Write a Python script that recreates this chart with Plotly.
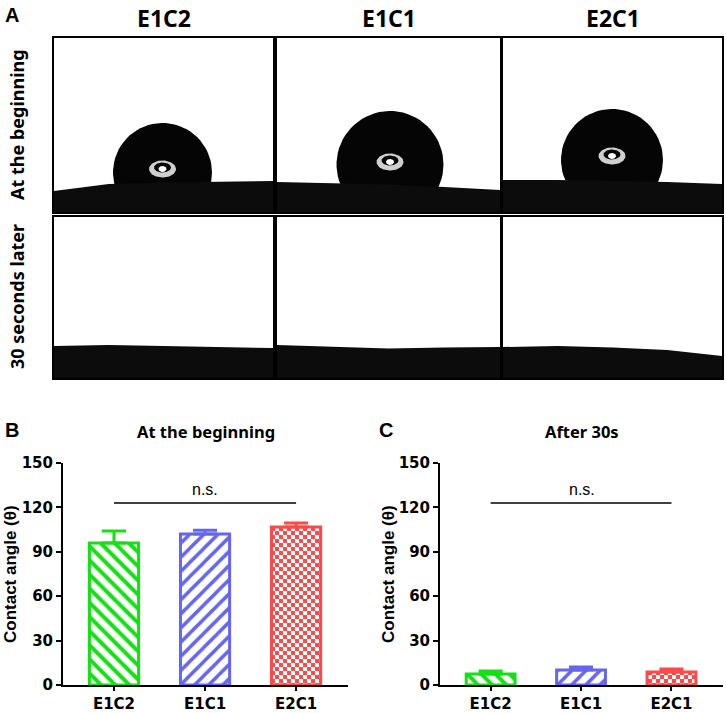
import numpy as np
import plotly.graph_objects as go

W, H = 726, 713
# the page comes out with the plot squeezed into this vertical band (px)
BAND_TOP, BAND_H = 10, 694

groups = ["E1C2", "E1C1", "E2C1"]
colors = ["#14e014", "#6565ee", "#ff4848"]

# contact angle (degrees), mean and SD
angle_start = [96.0, 102.0, 106.8]
sd_start = [8.0, 2.6, 2.7]
angle_30s = [7.4, 10.1, 8.8]
sd_30s = [2.1, 2.1, 2.0]

# droplet photos, in image pixels measured from the bottom-left corner
img_w = [219, 223, 219]
img_h = [174, 161]
drop_cx = [108.5, 113, 109]
drop_r = [49.5, 53.5, 51]
drop_top = [89, 101, 103]
glint_y = [43, 50, 56]
surf_x = [0, 0.25, 0.5, 0.75, 1.0]  # fraction of image width
surf_start = [[21, 28, 29.5, 30.5, 31], [30, 29, 27.5, 25, 22], [32, 32, 31, 30, 28]]
surf_30s = [[32, 33, 32, 31, 30], [33, 31, 29.5, 30.5, 31], [31, 32, 30.5, 28, 22]]

# page boxes (px) for the photos and the two bar charts
img_cols = [(54, 273), (277, 500), (503, 722)]
img_rows = [(39, 213), (218, 379)]
chart_cols = [(63, 348), (440, 723)]
chart_row = (464, 686)

# bar fills: hatching for the first two, a checkerboard for the third
fills = [
    dict(shape="\\", size=10, solidity=0.4),
    dict(shape="/", size=10, solidity=0.35),
    dict(path="M0,0H4V4H0Z M4,4H8V8H4Z", size=8),
]


def px_x(a, b):
    return [a / W, b / W]


def py(y):
    return 1 - (y - BAND_TOP) / BAND_H


def px_y(top, bottom):
    return [py(bottom), py(top)]


def ellipse(cx, cy, rx, ry, n=72):
    t = np.linspace(0, 2 * np.pi, n)
    return cx + rx * np.cos(t), cy + ry * np.sin(t)


def blob(x, y, color, ax):
    return go.Scatter(x=x, y=y, mode="lines", fill="toself", fillcolor=color,
                      line=dict(width=0, color=color), hoverinfo="skip",
                      showlegend=False, xaxis="x" + ax, yaxis="y" + ax)


fig = go.Figure()
layout = {}

# panel A: the six photos
for r, surf in enumerate([surf_start, surf_30s]):
    for c in range(3):
        n = r * 3 + c + 1
        ax = str(n)
        w, h = img_w[c], img_h[r]
        if r == 0:
            cy = drop_top[c] - drop_r[c]
            x, y = ellipse(drop_cx[c], cy, drop_r[c], drop_r[c])
            fig.add_trace(blob(x, y, "#050505", ax))
            x, y = ellipse(drop_cx[c], glint_y[c], 13.5, 8.5)
            fig.add_trace(blob(x, y, "#cfcfcf", ax))
            x, y = ellipse(drop_cx[c], glint_y[c] + 1.5, 8.5, 5)
            fig.add_trace(blob(x, y, "#050505", ax))
            x, y = ellipse(drop_cx[c], glint_y[c], 4, 3)
            fig.add_trace(blob(x, y, "#ffffff", ax))
        # substrate goes on top so it cuts off the bottom of the droplet
        sx = [f * w for f in surf_x]
        fig.add_trace(blob([0] + sx + [w, 0], [surf[c][0]] + surf[c] + [0, 0], "#0c0c0c", ax))
        key = "" if n == 1 else str(n)
        layout["xaxis" + key] = dict(domain=px_x(*img_cols[c]), range=[0, w], anchor="y" + ax,
                                     showgrid=False, zeroline=False, showticklabels=False,
                                     showline=True, mirror=True, linecolor="black", linewidth=1.8)
        layout["yaxis" + key] = dict(domain=px_y(*img_rows[r]), range=[0, h], anchor="x" + ax,
                                     showgrid=False, zeroline=False, showticklabels=False,
                                     showline=True, mirror=True, linecolor="black", linewidth=1.8)

# panels B and C: bar charts
tickfont = dict(family="DejaVu Sans", size=15, color="black", weight="bold")
for k, (vals, sds) in enumerate([(angle_start, sd_start), (angle_30s, sd_30s)]):
    ax = str(7 + k)
    for g, v, s, col, fill in zip(groups, vals, sds, colors, fills):
        fig.add_trace(go.Bar(
            x=[g], y=[v], width=0.54, xaxis="x" + ax, yaxis="y" + ax, showlegend=False,
            marker=dict(color="white", line=dict(color=col, width=3),
                        pattern=dict(fgcolor=col, bgcolor="white", fillmode="replace", **fill)),
            error_y=dict(type="data", symmetric=False, array=[s], arrayminus=[0],
                         color=col, thickness=3, width=12)))
    layout["xaxis" + ax] = dict(domain=px_x(*chart_cols[k]), range=[-0.56, 2.57], anchor="y" + ax,
                                type="category", categoryorder="array", categoryarray=groups,
                                showgrid=False, zeroline=False, showline=True, linecolor="black",
                                linewidth=2, ticks="outside", ticklen=4, tickwidth=2,
                                tickcolor="black", tickfont=tickfont)
    layout["yaxis" + ax] = dict(domain=px_y(*chart_row), range=[0, 150], anchor="x" + ax,
                                tickvals=[0, 30, 60, 90, 120, 150], showgrid=False, zeroline=False,
                                showline=True, linecolor="black", linewidth=2, ticks="outside",
                                ticklen=5, tickwidth=2, tickcolor="black", tickfont=tickfont)
    # n.s. bracket
    fig.add_shape(type="line", x0=0, x1=2, y0=123, y1=123, xref="x" + ax, yref="y" + ax,
                  line=dict(color="black", width=1.5))


def note(text, x, y, size, family="Liberation Sans", bold=True, angle=0, yanchor="middle"):
    return dict(text=text, x=x / W, y=py(y), xref="paper", yref="paper", showarrow=False,
                xanchor="center", yanchor=yanchor, textangle=angle,
                font=dict(family=family, size=size, color="black",
                          weight="bold" if bold else "normal"))


annotations = [
    note("A", 12, 16, 20),
    note("B", 12, 431, 20),
    note("C", 386, 431, 20),
    note("At the beginning", 206, 432, 16.5, "Noto Sans"),
    note("After 30s", 582, 432, 16.5, "Noto Sans"),
    note("n.s.", 205, 490, 16, bold=False),
    note("n.s.", 582, 490, 16, bold=False),
    note("Contact angle (θ)", 10, 575, 17, angle=-90),
    note("Contact angle (θ)", 388, 575, 17, angle=-90),
    note("At the beginning", 17, 126, 18, "Noto Sans", angle=-90),
    note("30 seconds later", 17, 298, 18, "Noto Sans", angle=-90),
]
for g, (a, b) in zip(groups, img_cols):
    annotations.append(note(g, (a + b) / 2, 1, 23, "Noto Sans", yanchor="top"))

fig.update_layout(width=W, height=H, margin=dict(l=0, r=0, t=0, b=0),
                  paper_bgcolor="white", plot_bgcolor="white", barmode="overlay",
                  annotations=annotations, **layout)

fig.write_html("out.html", config={"displayModeBar": False},
               post_script="document.body.style.margin = '0';"
                           "document.body.style.overflow = 'hidden';"
                           "document.documentElement.style.overflow = 'hidden';")
